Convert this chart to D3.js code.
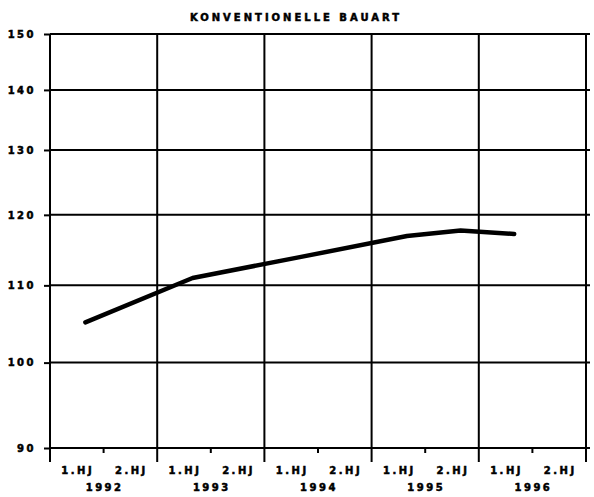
<!DOCTYPE html>
<html>
<head>
<meta charset="utf-8">
<script src="https://cdn.jsdelivr.net/npm/d3@7"></script>
<style>
body{margin:0;background:#fff;}
text{font-family:"DejaVu Sans",sans-serif;font-weight:bold;fill:#000;stroke:#000;stroke-width:0.5px;}
</style>
</head>
<body>
<script>
/* chart data */
var title = "KONVENTIONELLE BAUART";
var years = [1992, 1993, 1994, 1995, 1996];
var halfLabels = ["1.HJ", "2.HJ"];
var yTicks = [90, 100, 110, 120, 130, 140, 150];
var times = [1992.33, 1993.33, 1994.33, 1995.33, 1995.83, 1996.33];
var values = [105.1, 111.0, 113.9, 116.9, 117.7, 117.2];

chart();

function chart(){
var W = 594, H = 497;
var left = 50, right = 586, top = 34, bottom = 448;

var svg = d3.select("body").append("svg")
	.attr("width", W).attr("height", H);

var x = d3.scaleLinear().domain([years[0], years[years.length-1]+1]).range([left, right]);
var y = d3.scaleLog().domain([90, 150]).range([bottom, top]);

/* title */
svg.append("text")
	.attr("x", 296).attr("y", 21)
	.attr("text-anchor", "middle")
	.attr("font-size", 10).attr("letter-spacing", 3)
	.text(title);

/* horizontal grid */
svg.append("g").selectAll("line").data(yTicks).enter().append("line")
	.attr("x1", left).attr("x2", 590)
	.attr("y1", function(d){return y(d);}).attr("y2", function(d){return y(d);})
	.attr("stroke", "#000").attr("stroke-width", 2);

/* vertical grid at year boundaries */
var bounds = years.concat([years[years.length-1]+1]);
svg.append("g").selectAll("line").data(bounds).enter().append("line")
	.attr("x1", function(d){return x(d);}).attr("x2", function(d){return x(d);})
	.attr("y1", top).attr("y2", bottom + 14)
	.attr("stroke", "#000").attr("stroke-width", 2);

/* y axis */
var yAxis = svg.append("g")
	.attr("transform", "translate(" + left + ",0)")
	.call(d3.axisLeft(y).tickValues(yTicks).tickFormat(d3.format("d")).tickSize(6).tickPadding(8));
yAxis.select(".domain").remove();
yAxis.selectAll("line").attr("stroke", "#000").attr("stroke-width", 2);
yAxis.selectAll("text").attr("font-size", 10).attr("letter-spacing", 2.5)
	.style("font-family", "DejaVu Sans").style("font-weight", "bold");

/* half-year ticks */
var mids = years.map(function(d){return d + 0.5;});
svg.append("g").selectAll("line").data(mids).enter().append("line")
	.attr("x1", function(d){return x(d);}).attr("x2", function(d){return x(d);})
	.attr("y1", bottom).attr("y2", bottom + 5)
	.attr("stroke", "#000").attr("stroke-width", 2);

/* x labels */
var halves = [];
years.forEach(function(yr){
	halfLabels.forEach(function(h, i){ halves.push({t: yr + 0.25 + i*0.5, label: h}); });
});
svg.append("g").selectAll("text").data(halves).enter().append("text")
	.attr("x", function(d){return x(d.t) + 1;}).attr("y", 474)
	.attr("text-anchor", "middle")
	.attr("font-size", 10).attr("letter-spacing", 2.5)
	.text(function(d){return d.label;});

svg.append("g").selectAll("text").data(years).enter().append("text")
	.attr("x", function(d){return x(d + 0.5) + 1;}).attr("y", 491)
	.attr("text-anchor", "middle")
	.attr("font-size", 10).attr("letter-spacing", 2.5)
	.text(function(d){return d;});

/* data line */
var line = d3.line()
	.x(function(d, i){return x(times[i]);})
	.y(function(d){return y(d);});
svg.append("path")
	.datum(values)
	.attr("d", line)
	.attr("fill", "none")
	.attr("stroke", "#000").attr("stroke-width", 4.5)
	.attr("stroke-linecap", "round").attr("stroke-linejoin", "round");
}
</script>
</body>
</html>
